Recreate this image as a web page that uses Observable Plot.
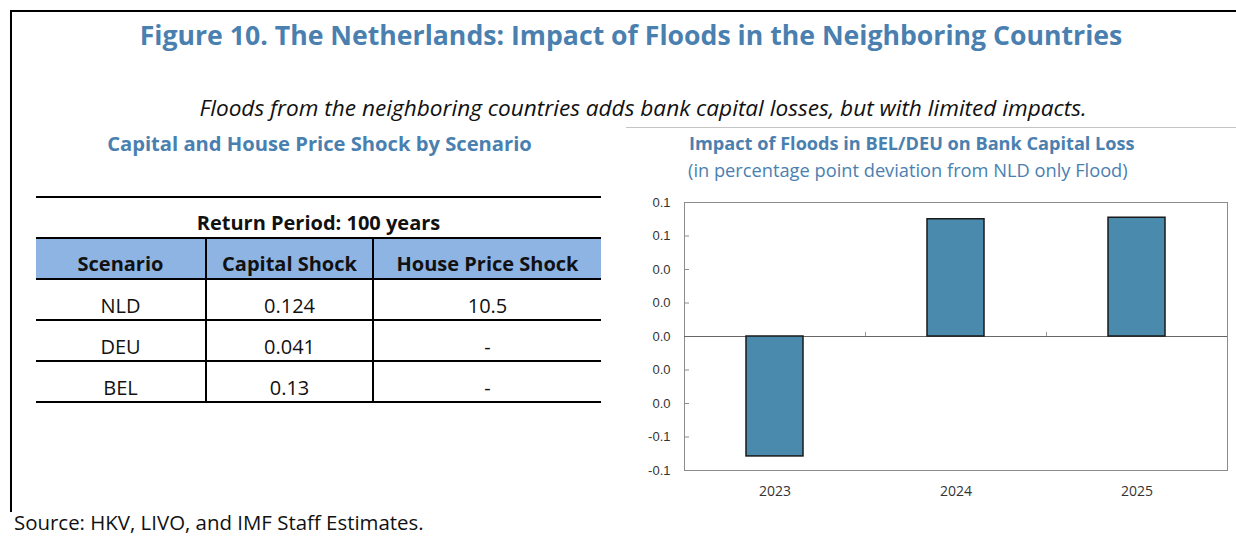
<!DOCTYPE html>
<html><head><meta charset="utf-8">
<script src="https://cdn.jsdelivr.net/npm/d3@7"></script>
<script src="https://cdn.jsdelivr.net/npm/@observablehq/plot@0.6"></script>
<style>
body{margin:0;background:#fff;}
#page{position:relative;width:1236px;height:536px;overflow:hidden;font-family:"Open Sans",sans-serif;color:#111;}
.t{position:absolute;white-space:nowrap;line-height:1;}
.blue{color:#4a80b0;}
.line{position:absolute;}
.row{display:flex;box-sizing:border-box;}
.cell{box-sizing:border-box;display:flex;align-items:center;justify-content:center;font-size:20px;white-space:nowrap;}
#chart{position:absolute;left:624px;top:190px;}
</style></head><body><div id="page"></div>
<script>
// ---- data ----
const years = ["2023", "2024", "2025"];
const impact = [-0.0716, 0.0700, 0.0709];
const yTicks = [-0.08, -0.06, -0.04, -0.02, 0, 0.02, 0.04, 0.06, 0.08];
const yTickLabels = ["-0.1", "-0.1", "0.0", "0.0", "0.0", "0.0", "0.0", "0.1", "0.1"];
const tableHeader = ["Scenario", "Capital Shock", "House Price Shock"];
const scenarios = ["NLD", "DEU", "BEL"];
const capitalShock = [0.124, 0.041, 0.13];
const housePriceShock = [10.5, null, null];
const returnPeriod = "Return Period: 100 years";

const page = document.getElementById("page");
function addText(txt, cls, style, fitWidth){
  const el = document.createElement("div");
  el.className = "t " + (cls||"");
  el.textContent = txt;
  Object.assign(el.style, style);
  page.appendChild(el);
  if (fitWidth){
    const w = el.getBoundingClientRect().width;
    const fs = parseFloat(getComputedStyle(el).fontSize);
    el.style.fontSize = (fs * fitWidth / w) + "px";
  }
  return el;
}
function addLine(style){
  const el = document.createElement("div");
  el.className = "line";
  Object.assign(el.style, style);
  page.appendChild(el);
}
// frame lines
addLine({left:"10px", top:"10px", width:"1226px", height:"2px", background:"#000"});
addLine({left:"10px", top:"10px", width:"2px", height:"502px", background:"#000"});
addLine({left:"626px", top:"127px", width:"610px", height:"1px", background:"#c4c4c4"});

addText("Figure 10. The Netherlands: Impact of Floods in the Neighboring Countries", "blue",
  {left:"631px", top:"35px", transform:"translate(-50%,-50%)", fontWeight:"700", fontSize:"24px"}, 983);
addText("Floods from the neighboring countries adds bank capital losses, but with limited impacts.", "",
  {left:"643px", top:"108px", transform:"translate(-50%,-50%)", fontStyle:"italic", fontSize:"20px"}, 888);
addText("Capital and House Price Shock by Scenario", "blue",
  {left:"319.5px", top:"143px", transform:"translate(-50%,-50%)", fontWeight:"700", fontSize:"20px"}, 425);
addText("Impact of Floods in BEL/DEU on Bank Capital Loss", "blue",
  {left:"689px", top:"143px", transform:"translateY(-50%)", fontWeight:"700", fontSize:"18px"}, 446);
addText("(in percentage point deviation from NLD only Flood)", "blue",
  {left:"688px", top:"170px", transform:"translateY(-50%)", fontSize:"18px"}, 440);
addText("Source: HKV, LIVO, and IMF Staff Estimates.", "",
  {left:"14px", top:"522px", transform:"translateY(-50%)", fontSize:"20px"}, 410);

// ---- table ----
const colW = [169, 167, 229];
const tbl = document.createElement("div");
Object.assign(tbl.style, {position:"absolute", left:"36px", top:"196px", width:"565px"});
page.appendChild(tbl);
const rp = document.createElement("div");
rp.className = "row";
Object.assign(rp.style, {height:"41px", borderTop:"2px solid #000"});
const rpc = document.createElement("div");
rpc.className = "cell";
Object.assign(rpc.style, {width:"565px", fontWeight:"700", paddingTop:"9px"});
rpc.textContent = returnPeriod;
rp.appendChild(rpc);
tbl.appendChild(rp);
function makeRow(vals, opts){
  const r = document.createElement("div");
  r.className = "row";
  Object.assign(r.style, opts.row);
  vals.forEach((v, i) => {
    const c = document.createElement("div");
    c.className = "cell";
    Object.assign(c.style, {width: colW[i] + "px", borderLeft: i ? "2px solid #000" : "none"}, opts.cell);
    c.textContent = v;
    r.appendChild(c);
  });
  tbl.appendChild(r);
}
makeRow(tableHeader, {row:{height:"43px", borderTop:"2px solid #000", borderBottom:"2px solid #000", background:"#8db4e2"},
  cell:{fontWeight:"700", paddingTop:"9px"}});
scenarios.forEach((s, i) => {
  makeRow([s, String(capitalShock[i]), housePriceShock[i] == null ? "-" : String(housePriceShock[i])],
    {row:{height:"41px", borderBottom:"2px solid #000"}, cell:{paddingTop:"12px"}});
});

// ---- chart ----
const W = 612, H = 320, mL = 60, mR = 9, mT = 12, mB = 40;
const step = (W - mL - mR) / years.length;
const data = years.map((y, i) => ({year: y, value: impact[i]}));
const chart = Plot.plot({
  width: W, height: H, marginLeft: mL, marginRight: mR, marginTop: mT, marginBottom: mB,
  style: {fontFamily: "Open Sans", fontSize: "14px", color: "#333", background: "transparent", overflow: "visible"},
  x: {domain: years, paddingInner: 0.687, paddingOuter: 0.3435, label: null},
  y: {domain: [-0.08, 0.08], label: null},
  marks: [
    Plot.frame({stroke: "#8c8c8c"}),
    Plot.axisY({ticks: yTicks, tickFormat: d => yTickLabels[yTicks.indexOf(d)], tickSize: 0, tickPadding: 14,
      fontFamily: "Liberation Sans", fontSize: 13, fill: "#333", label: null}),
    Plot.axisY({ticks: yTicks, tickSize: 5, text: null, dx: 5, stroke: "#8c8c8c", label: null}),
    Plot.axisX({tickSize: 0, tickPadding: 16, fontSize: 14, fill: "#333", label: null}),
    Plot.ruleY([0], {stroke: "#666"}),
    Plot.ruleX(years.slice(0, 2), {x: d => d, y1: 0, y2: 0.0025, dx: step / 2, stroke: "#999"}),
    Plot.barY(data, {x: "year", y: "value", fill: "#4a8aad", stroke: "#1a1a1a", strokeWidth: 1.5})
  ]
});
chart.id = "chart";
page.appendChild(chart);
</script></body></html>
